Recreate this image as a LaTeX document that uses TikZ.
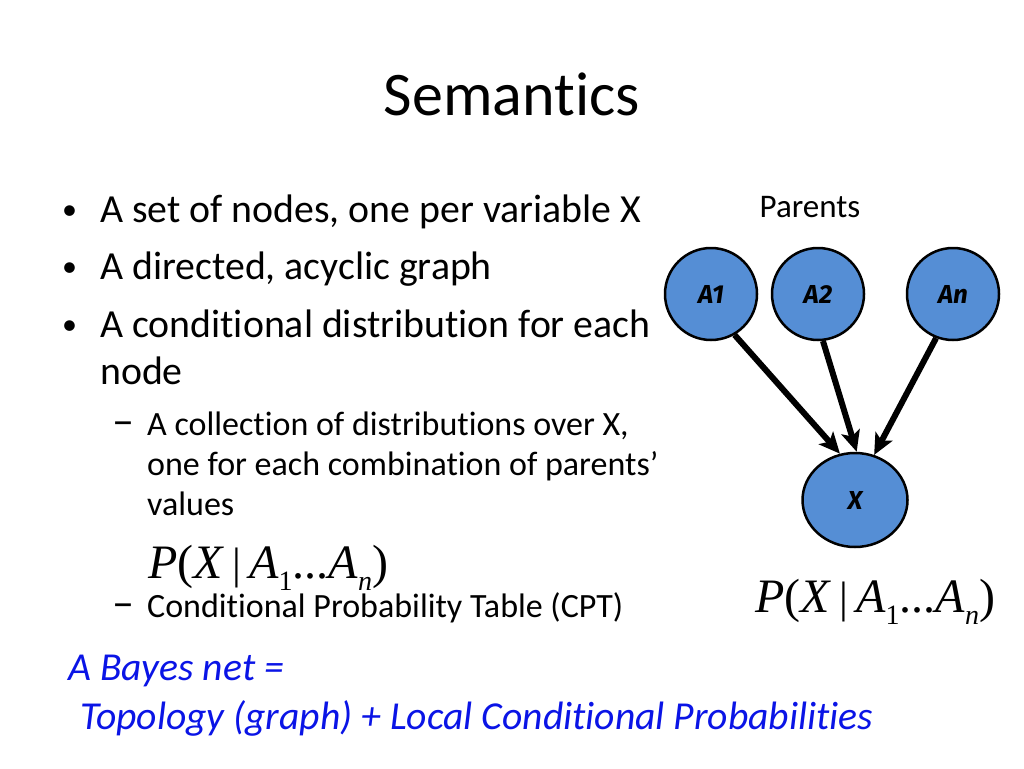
\documentclass[tikz,border=0pt]{standalone}
\usepackage{fontspec}
\setmainfont{Carlito}[Ligatures=NoCommon]
\newfontfamily\tnr{Liberation Serif}
\newfontfamily\lblfont{Fira Sans}
\usetikzlibrary{arrows.meta,shapes.geometric}
\definecolor{nodeblue}{RGB}{85,142,213}
\definecolor{textblue}{RGB}{10,20,230}
\newcommand{\pformula}{{\tnr\fontsize{48}{50}\selectfont\textit{P}(\textit{X}\,{\fontsize{44}{44}\selectfont|}\,\textit{A}\raisebox{-0.25em}{\fontsize{28}{28}\selectfont 1}...\textit{A}\raisebox{-0.25em}{\fontsize{28}{28}\selectfont\textit{n}})}}
\begin{document}
\begin{tikzpicture}[x=1pt,y=-1pt,
  title/.style={font=\fontsize{62}{70}\selectfont, anchor=base},
  bul/.style={font=\fontsize{39.8}{44}\selectfont, anchor=base west, inner sep=0pt},
  buldot/.style={font=\fontsize{30}{34}\selectfont, anchor=base west, inner sep=0pt},
  sub/.style={font=\fontsize{34}{38}\selectfont, anchor=base west, inner sep=0pt},
  subdash/.style={font=\fontsize{44}{38}\selectfont, anchor=base west, inner sep=0pt},
  bayes/.style={font=\fontsize{39.6}{44}\selectfont\itshape, text=textblue, anchor=base west, inner sep=0pt},
  gnode/.style={circle, draw=black, line width=2.5pt, fill=nodeblue, minimum size=92pt, inner sep=0pt, font=\lblfont\bfseries\itshape\fontsize{26}{28}\selectfont},
  edge/.style={line width=6pt, -{Stealth[length=21pt,width=19pt,inset=5pt]}}
]
\useasboundingbox (0,0) rectangle (1024,768);
\fill[white] (0,0) rectangle (1024,768);

\node[title] (title) at (512,115) {Semantics};

\node[buldot] (b1d) at (62,219) {\textbullet};
\node[bul] (b1) at (100,222) {A set of nodes, one per variable X};
\node[buldot] (b2d) at (62,276) {\textbullet};
\node[bul] (b2) at (100,279) {A directed, acyclic graph};
\node[buldot] (b3d) at (62,334) {\textbullet};
\node[bul] (b3) at (100,337) {A conditional distribution for each};
\node[bul] (b3b) at (100,384) {node};

\node[subdash] (s1d) at (112,435) {–};
\node[sub] (s1) at (147,435) {A collection of distributions over X,};
\node[sub] (s1b) at (147,475) {one for each combination of parents’};
\node[sub] (s1c) at (147,515) {values};
\node[anchor=base west, inner sep=0pt] (pf1) at (148,578) {\pformula};
\node[subdash] (s2d) at (112,617) {–};
\node[sub] (s2) at (147,617) {Conditional Probability Table (CPT)};

\node[bayes] (bn1) at (68,680) {A Bayes net =};
\node[bayes] (bn2) at (80,729) {Topology (graph) + Local Conditional Probabilities};

\node[font=\fontsize{33}{36}\selectfont, anchor=base] (parents) at (810,217) {Parents};
\node[gnode] (A1) at (711,294) {A1};
\node[gnode] (A2) at (818,294) {A2};
\node[gnode] (An) at (953,294) {An};
\node[gnode, ellipse, minimum width=105pt, minimum height=94pt] (X) at (855,500) {X};

\draw[edge] (A1.-60) -- (X.108);
\draw[edge] (A2.-84) -- (X.88);
\draw[edge] (An.-111) -- (X.67);

\node[anchor=base west, inner sep=0pt] (pf2) at (755,612) {\pformula};
\end{tikzpicture}
\end{document}
